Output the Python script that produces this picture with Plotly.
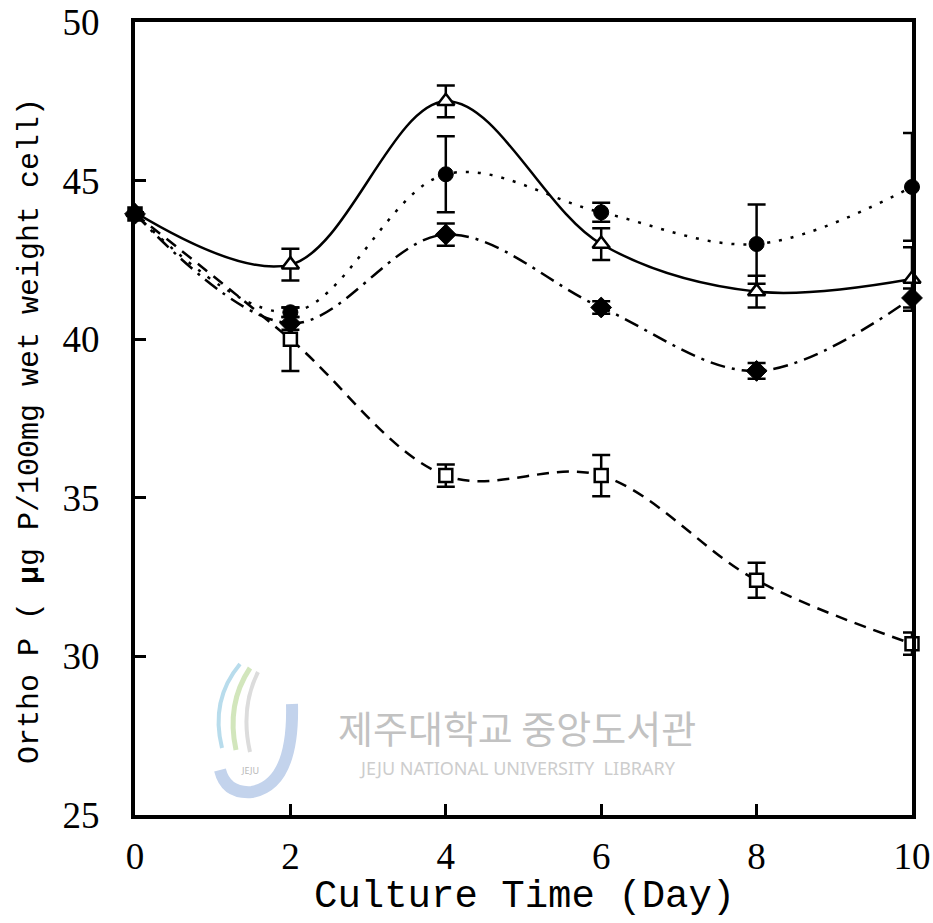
import plotly.graph_objects as go

days = [0, 2, 4, 6, 8, 10]
tri = [44.0, 42.35, 47.5, 43.0, 41.5, 41.9]
tri_err = [0, 0.5, 0.5, 0.5, 0.5, 1.0]
circ = [43.95, 40.85, 45.2, 44.0, 43.0, 44.8]
circ_err = [0, 0.15, 1.2, 0.3, 1.25, 1.7]
diam = [43.95, 40.5, 43.3, 41.0, 39.0, 41.3]
diam_err = [0, 0.2, 0.35, 0.2, 0.25, 0.3]
sq = [43.95, 40.0, 35.7, 35.7, 32.4, 30.4]
sq_err = [0, 1.0, 0.35, 0.65, 0.55, 0.35]

x_ticks = [0, 2, 4, 6, 8, 10]
y_ticks = [25, 30, 35, 40, 45, 50]

W, H = 933, 923
L, R, T, B = 135, 21, 22, 108
PW, PH = W - L - R, H - T - B


def px(x):
    return (x - L) / PW


def py(y):
    return (H - B - y) / PH


fig = go.Figure()

styles = {
    "sq": ("12px,8px", dict(symbol="square", color="white", size=13,
                            line=dict(color="black", width=2.5))),
    "diam": ("15px,7px,3px,7px", dict(symbol="diamond", color="black", size=16,
                                      line=dict(color="black", width=1))),
    "circ": ("3px,9px", dict(symbol="circle", color="black", size=15,
                             line=dict(color="black", width=1))),
    "tri": ("solid", dict(symbol="triangle-up", color="white", size=15,
                          line=dict(color="black", width=2.5))),
}
data = {"sq": (sq, sq_err), "diam": (diam, diam_err),
        "circ": (circ, circ_err), "tri": (tri, tri_err)}

for key in ["sq", "diam", "circ", "tri"]:
    vals, errs = data[key]
    dash, mk = styles[key]
    fig.add_trace(go.Scatter(
        x=days, y=vals, mode="lines",
        line=dict(color="black", width=2.5, dash=dash, shape="spline", smoothing=1.0),
        showlegend=False, hoverinfo="skip", cliponaxis=False,
    ))

for key in ["tri", "sq", "circ", "diam"]:
    vals, errs = data[key]
    dash, mk = styles[key]
    fig.add_trace(go.Scatter(
        x=days, y=vals, mode="markers", marker=mk,
        error_y=dict(type="data", array=errs, visible=True, color="black",
                     thickness=2.5, width=9),
        showlegend=False, cliponaxis=False,
    ))

axis_font = dict(family="Liberation Serif", size=37, color="black")

fig.update_xaxes(
    range=[0, 10], tickvals=x_ticks, ticktext=[str(v) for v in x_ticks],
    ticks="inside", ticklen=11, tickwidth=3, tickcolor="black",
    showline=True, linewidth=4, linecolor="black", mirror=True,
    showgrid=False, zeroline=False, tickfont=axis_font, ticklabelstandoff=6,
    automargin=False,
)
fig.update_yaxes(
    range=[25, 50], tickvals=y_ticks, ticktext=[str(v) for v in y_ticks],
    ticks="inside", ticklen=11, tickwidth=3, tickcolor="black",
    showline=True, linewidth=4, linecolor="black", mirror=True,
    showgrid=False, zeroline=False, tickfont=axis_font, ticklabelstandoff=24,
    automargin=False,
)

annotations = [
    dict(x=px(524), y=py(897), xref="paper", yref="paper", showarrow=False,
         text="Culture Time (Day)", xanchor="center", yanchor="middle",
         font=dict(family="Liberation Mono", size=39, color="black")),
    dict(x=px(30), y=py(431), xref="paper", yref="paper", showarrow=False,
         text="Ortho P ( <b>μ</b>g P/100mg wet weight cell)", textangle=-90,
         xanchor="center", yanchor="middle",
         font=dict(family="Liberation Mono", size=30, color="black")),
    dict(x=px(517), y=py(726), xref="paper", yref="paper", showarrow=False,
         text="제주대학교 중앙도서관", xanchor="center", yanchor="middle",
         font=dict(family="Noto Sans CJK KR", size=38, color="#c2c2c2")),
    dict(x=px(517), y=py(768), xref="paper", yref="paper", showarrow=False,
         text="JEJU NATIONAL UNIVERSITY  LIBRARY", xanchor="center", yanchor="middle",
         font=dict(family="Noto Sans", size=18, color="#cdcdcd")),
    dict(x=px(250), y=py(770), xref="paper", yref="paper", showarrow=False,
         text="JEJU", xanchor="center", yanchor="middle",
         font=dict(family="Noto Sans", size=9, color="#b8b8b8")),
]


def path(points):
    s = "M %f,%f" % (px(points[0][0]), py(points[0][1]))
    for i in range(1, len(points) - 1, 2):
        s += " Q %f,%f %f,%f" % (px(points[i][0]), py(points[i][1]),
                                  px(points[i + 1][0]), py(points[i + 1][1]))
    return s


shapes = [
    dict(type="path", xref="paper", yref="paper",
         path=path([(292, 704), (294, 784), (252, 792), (226, 794), (220, 770)]),
         line=dict(color="#c3d3ec", width=12), layer="below"),
    dict(type="path", xref="paper", yref="paper",
         path=path([(240, 664), (210, 700), (222, 748)]),
         line=dict(color="#b8dcec", width=4), layer="below"),
    dict(type="path", xref="paper", yref="paper",
         path=path([(250, 668), (226, 704), (236, 750)]),
         line=dict(color="#d2e6bc", width=5), layer="below"),
    dict(type="path", xref="paper", yref="paper",
         path=path([(258, 672), (240, 708), (250, 752)]),
         line=dict(color="#dcdcdc", width=4), layer="below"),
]

fig.update_layout(
    width=W, height=H,
    margin=dict(l=L, r=R, t=T, b=B),
    paper_bgcolor="white", plot_bgcolor="white",
    annotations=annotations, shapes=shapes,
    showlegend=False,
)

fig.write_html("out.html")
